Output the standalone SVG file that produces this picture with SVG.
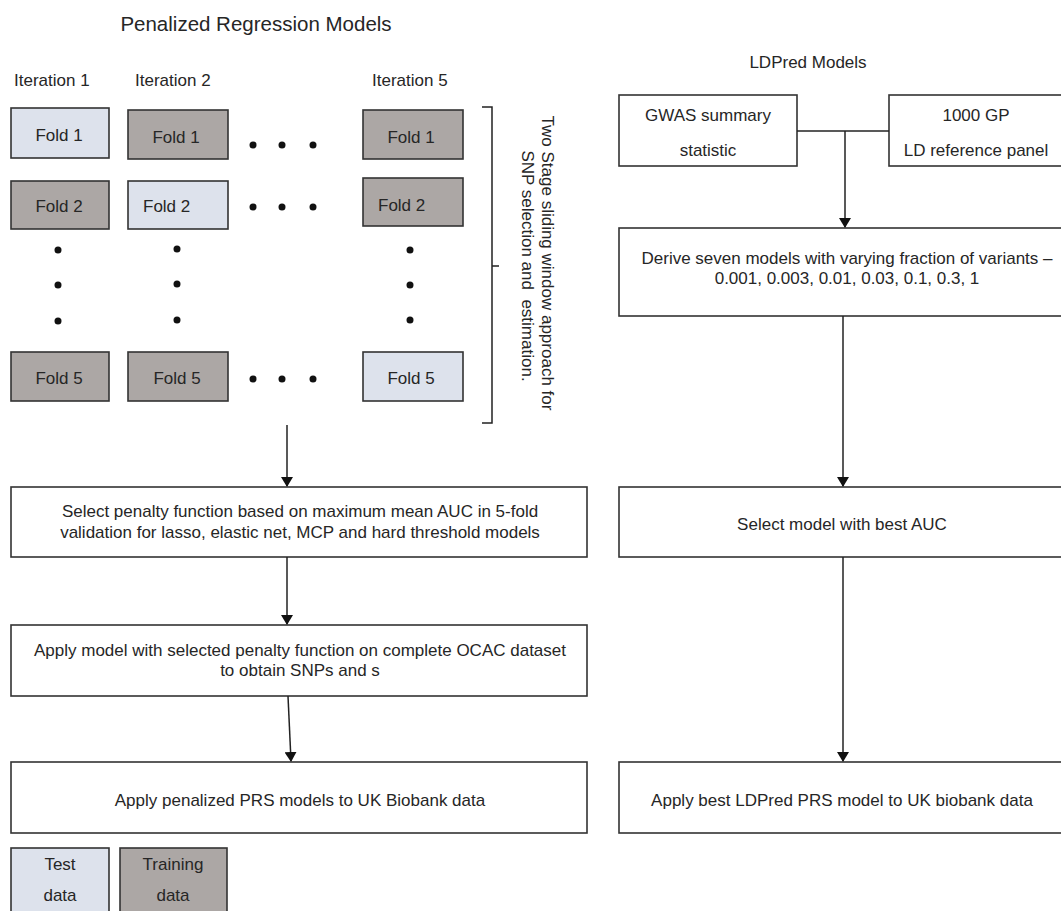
<svg xmlns="http://www.w3.org/2000/svg" width="1061" height="911" viewBox="0 0 1061 911">
<style>
text{font-family:"Liberation Sans",Arial,sans-serif;fill:#262626;font-size:17px;}
.c{text-anchor:middle;}
.h{font-size:20.5px;text-anchor:middle;}
.box{fill:#fff;stroke:#333;stroke-width:1.6;}
.test{fill:#dde2ec;stroke:#333;stroke-width:1.6;}
.train{fill:#aca7a5;stroke:#333;stroke-width:1.6;}
.ln{fill:none;stroke:#222;stroke-width:1.5;}
.dot{fill:#111;}
</style>
<defs>
<marker id="ah" markerWidth="10" markerHeight="12" refX="9" refY="6" orient="auto" markerUnits="userSpaceOnUse">
<path d="M0,0 L10,6 L0,12 Z" fill="#111"/>
</marker>
</defs>
<rect width="1061" height="911" fill="#fff"/>

<text class="h" x="256" y="31">Penalized Regression Models</text>
<text class="c" x="808" y="68">LDPred Models</text>

<text x="14" y="86">Iteration 1</text>
<text x="135" y="86">Iteration 2</text>
<text x="372" y="86">Iteration 5</text>

<g id="it1-fold1"><rect class="test" x="11" y="108" width="98" height="50"/><text class="c" x="59" y="141">Fold 1</text></g>
<g id="it2-fold1"><rect class="train" x="128" y="110" width="100" height="49"/><text class="c" x="176" y="143">Fold 1</text></g>
<g id="it5-fold1"><rect class="train" x="363" y="110" width="100" height="49"/><text class="c" x="411" y="143">Fold 1</text></g>

<g id="it1-fold2"><rect class="train" x="11" y="181" width="98" height="48"/><text class="c" x="59" y="212">Fold 2</text></g>
<g id="it2-fold2"><rect class="test" x="128" y="181" width="100" height="48"/><text x="143" y="212">Fold 2</text></g>
<g id="it5-fold2"><rect class="train" x="363" y="178" width="100" height="48"/><text x="378" y="211">Fold 2</text></g>

<g id="it1-fold5"><rect class="train" x="11" y="352" width="98" height="49"/><text class="c" x="59" y="384">Fold 5</text></g>
<g id="it2-fold5"><rect class="train" x="128" y="352" width="100" height="49"/><text class="c" x="177" y="384">Fold 5</text></g>
<g id="it5-fold5"><rect class="test" x="363" y="352" width="100" height="49"/><text class="c" x="411" y="384">Fold 5</text></g>

<g id="dots">
<circle class="dot" cx="253" cy="145" r="3.5"/><circle class="dot" cx="282" cy="145" r="3.5"/><circle class="dot" cx="313" cy="145" r="3.5"/>
<circle class="dot" cx="253" cy="207" r="3.5"/><circle class="dot" cx="282" cy="207" r="3.5"/><circle class="dot" cx="313" cy="207" r="3.5"/>
<circle class="dot" cx="253" cy="379" r="3.5"/><circle class="dot" cx="282" cy="379" r="3.5"/><circle class="dot" cx="313" cy="379" r="3.5"/>
<circle class="dot" cx="58" cy="250" r="3.5"/><circle class="dot" cx="58" cy="285" r="3.5"/><circle class="dot" cx="58" cy="321" r="3.5"/>
<circle class="dot" cx="177" cy="249" r="3.5"/><circle class="dot" cx="177" cy="284" r="3.5"/><circle class="dot" cx="177" cy="320" r="3.5"/>
<circle class="dot" cx="410" cy="250" r="3.5"/><circle class="dot" cx="410" cy="285" r="3.5"/><circle class="dot" cx="410" cy="320" r="3.5"/>
</g>

<g id="bracket">
<path class="ln" d="M482,107 L492,107 L492,423 L482,423 M492,266 L499,266" stroke="#555"/>
<text class="c" transform="translate(542,263) rotate(90)">Two Stage sliding window approach for</text>
<text class="c" style="white-space:pre" transform="translate(522,266) rotate(90)">SNP selection and  estimation.</text>
</g>

<g id="select-penalty"><rect class="box" x="11" y="487" width="576" height="70"/>
<text class="c" x="300" y="517">Select penalty function based on maximum mean AUC in 5-fold</text>
<text class="c" x="300" y="538">validation for lasso, elastic net, MCP and hard threshold models</text></g>

<g id="apply-model"><rect class="box" x="11" y="625" width="576" height="71"/>
<text class="c" x="300" y="656">Apply model with selected penalty function on complete OCAC dataset</text>
<text class="c" x="300" y="676">to obtain SNPs and s</text></g>

<g id="apply-penalized"><rect class="box" x="11" y="762" width="576" height="71"/>
<text class="c" x="300" y="806">Apply penalized PRS models to UK Biobank data</text></g>

<g id="legend-test"><rect class="test" x="11" y="848" width="98" height="70"/>
<text class="c" x="60" y="870">Test</text><text class="c" x="60" y="901">data</text></g>
<g id="legend-train"><rect class="train" x="120" y="848" width="107" height="70"/>
<text class="c" x="173" y="870">Training</text><text class="c" x="173" y="901">data</text></g>

<g id="gwas"><rect class="box" x="619" y="95" width="178" height="71"/>
<text class="c" x="708" y="121">GWAS summary</text><text class="c" x="708" y="156">statistic</text></g>
<g id="ldref"><rect class="box" x="889" y="95" width="174" height="71"/>
<text class="c" x="976" y="121">1000 GP</text><text class="c" x="976" y="156">LD reference panel</text></g>

<g id="derive"><rect class="box" x="619" y="228" width="456" height="88"/>
<text class="c" x="847" y="264">Derive seven models with varying fraction of variants –</text>
<text class="c" x="847" y="284">0.001, 0.003, 0.01, 0.03, 0.1, 0.3, 1</text></g>

<g id="select-best"><rect class="box" x="619" y="487" width="456" height="70"/>
<text class="c" x="842" y="530">Select model with best AUC</text></g>

<g id="apply-best"><rect class="box" x="619" y="762" width="456" height="71"/>
<text class="c" x="842" y="806">Apply best LDPred PRS model to UK biobank data</text></g>

<g id="connectors">
<line class="ln" x1="287" y1="425" x2="287" y2="486" marker-end="url(#ah)"/>
<line class="ln" x1="287" y1="557" x2="287" y2="624" marker-end="url(#ah)"/>
<line class="ln" x1="288" y1="696" x2="291" y2="761" marker-end="url(#ah)"/>
<path class="ln" d="M797,131 L889,131"/>
<line class="ln" x1="845" y1="131" x2="845" y2="227" marker-end="url(#ah)"/>
<line class="ln" x1="843" y1="316" x2="843" y2="486" marker-end="url(#ah)"/>
<line class="ln" x1="843" y1="557" x2="843" y2="761" marker-end="url(#ah)"/>
</g>
</svg>
